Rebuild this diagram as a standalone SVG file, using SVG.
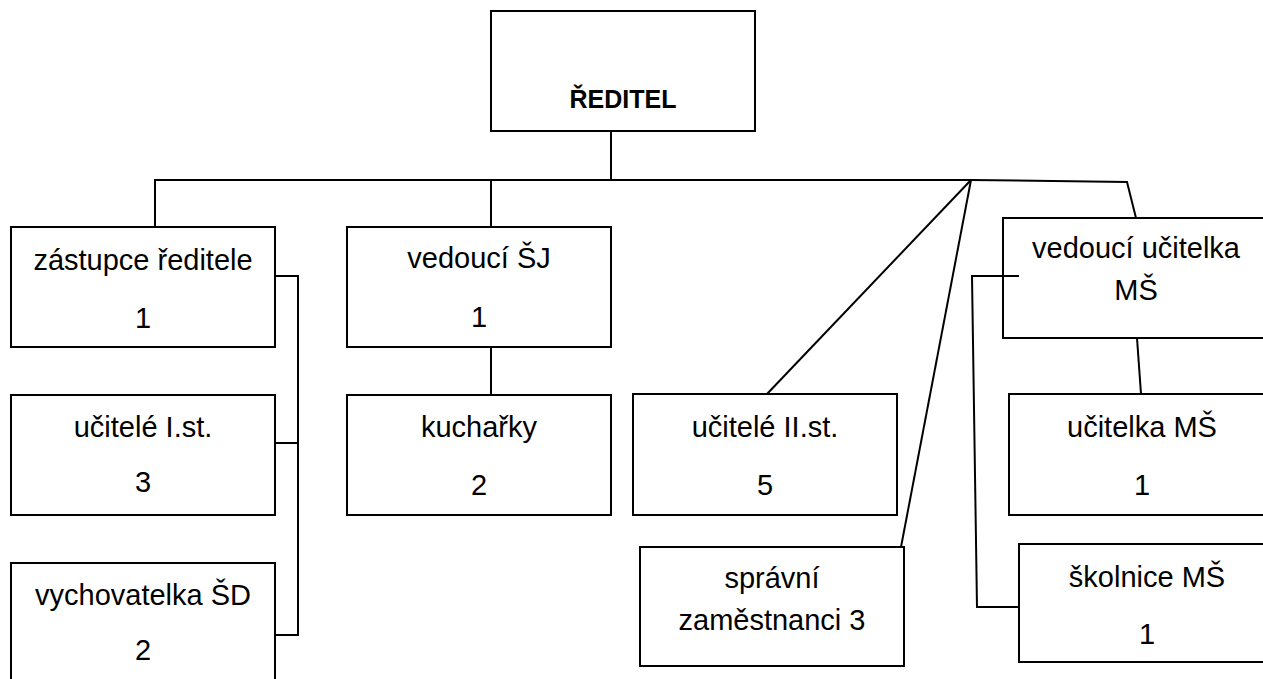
<svg xmlns="http://www.w3.org/2000/svg" width="1263" height="679" viewBox="0 0 1263 679">
<style>
.box{fill:#fff;stroke:#000;stroke-width:2}
.t{font-family:"Liberation Sans",Arial,sans-serif;font-size:29px;fill:#000;text-anchor:middle}
.b{font-family:"Liberation Sans",Arial,sans-serif;font-size:25px;font-weight:bold;fill:#000;text-anchor:middle}
.c{fill:none;stroke:#000;stroke-width:2}
</style>
<rect width="1263" height="679" fill="#fff"/>
<g id="reditel"><rect class="box" x="491" y="11" width="264" height="120"/><text class="b" x="623" y="108">ŘEDITEL</text></g>
<g id="zastupce"><rect class="box" x="11" y="227" width="264" height="120"/><text class="t" x="143" y="270">zástupce ředitele</text><text class="t" x="143" y="328">1</text></g>
<g id="ucitele1"><rect class="box" x="11" y="395" width="264" height="120"/><text class="t" x="143" y="437">učitelé I.st.</text><text class="t" x="143" y="492">3</text></g>
<g id="vychovatelka"><rect class="box" x="11" y="563" width="264" height="130"/><text class="t" x="143" y="605">vychovatelka ŠD</text><text class="t" x="143" y="660">2</text></g>
<g id="vedouciSJ"><rect class="box" x="347" y="227" width="264" height="120"/><text class="t" x="479" y="268">vedoucí ŠJ</text><text class="t" x="479" y="327">1</text></g>
<g id="kucharky"><rect class="box" x="347" y="395" width="264" height="120"/><text class="t" x="479" y="437">kuchařky</text><text class="t" x="479" y="495">2</text></g>
<g id="ucitele2"><rect class="box" x="633" y="394" width="264" height="121"/><text class="t" x="765" y="437">učitelé II.st.</text><text class="t" x="765" y="495">5</text></g>
<g id="spravni"><rect class="box" x="640" y="547" width="264" height="119"/><text class="t" x="772" y="588">správní</text><text class="t" x="772" y="630">zaměstnanci 3</text></g>
<g id="vedouciMS"><rect class="box" x="1003" y="218" width="266" height="120"/><text class="t" x="1136" y="258">vedoucí učitelka</text><text class="t" x="1136" y="300">MŠ</text></g>
<g id="ucitelkaMS"><rect class="box" x="1009" y="394" width="266" height="121"/><text class="t" x="1142" y="437">učitelka MŠ</text><text class="t" x="1142" y="495">1</text></g>
<g id="skolnice"><rect class="box" x="1019" y="544" width="266" height="118"/><text class="t" x="1147" y="587">školnice MŠ</text><text class="t" x="1147" y="644">1</text></g>
<g id="connectors">
<path class="c" d="M611,131 V180"/>
<path class="c" d="M155,227 V180 H971 L1127,182 L1136,218"/>
<path class="c" d="M491,180 V227"/>
<path class="c" d="M971,180 L767,394"/>
<path class="c" d="M971,180 L901,547"/>
<path class="c" d="M275,276 H298 V635 H275 M275,443 H298"/>
<path class="c" d="M491,347 V395"/>
<path class="c" d="M1137,338 L1141,394"/>
<path class="c" d="M1019,276 H972 L977,607 H1019"/>
</g>
</svg>
